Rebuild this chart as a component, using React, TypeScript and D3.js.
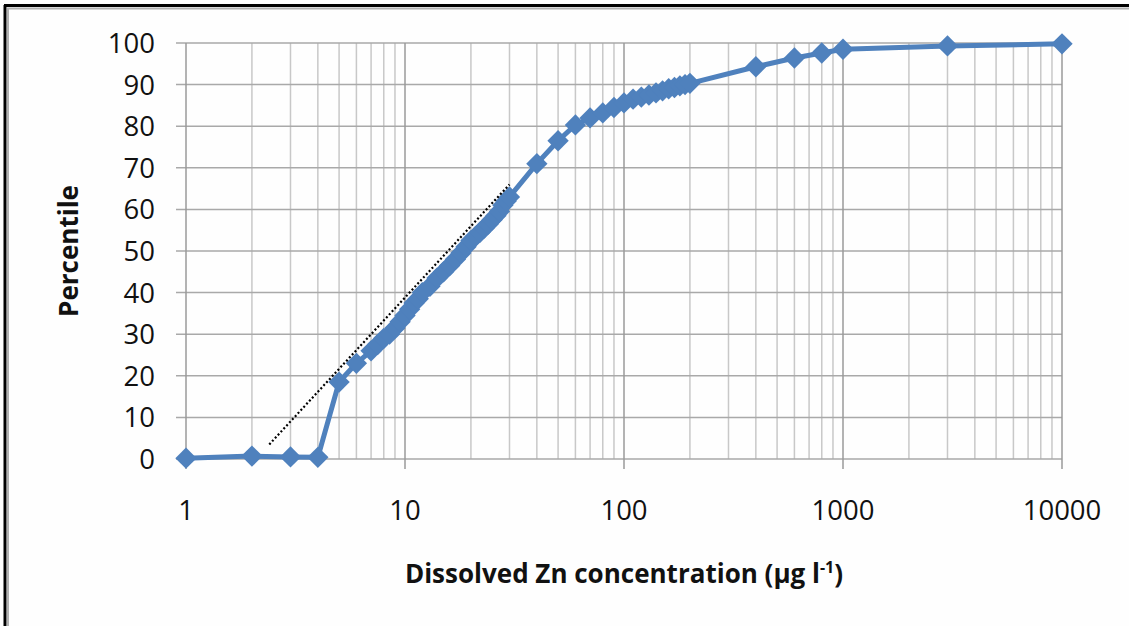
import React, { useEffect } from 'react';
import * as d3 from 'd3';

// Dissolved Zn concentration (µg/l) and cumulative percentile
const concentrations = [
  1, 2, 3, 4, 5, 6, 7, 7.5, 8, 8.5, 9, 9.5, 10, 10.5, 11, 11.5, 12, 13, 14, 15,
  16, 17, 18, 19, 20, 21, 22, 23, 24, 25, 26, 27, 28, 29, 30, 40, 50, 60, 70,
  80, 90, 100, 110, 120, 130, 140, 150, 160, 170, 180, 190, 200, 400, 600, 800,
  1000, 3000, 10000,
];
const percentiles = [
  0.2, 0.7, 0.5, 0.4, 18.5, 23, 26, 27.5, 29, 30, 31.5, 33, 34.5, 36, 37.5, 38.5,
  40, 41.5, 43.5, 45, 46.5, 48, 49.5, 51, 52.5, 53.5, 54.5, 55.5, 56.5, 57.5,
  58.5, 59.5, 61, 62, 63, 71, 76.5, 80.3, 82, 83.2, 84.5, 85.6, 86.5, 87, 87.5,
  88, 88.5, 89, 89.3, 89.7, 90, 90.3, 94.3, 96.4, 97.6, 98.5, 99.3, 99.8,
];

// dotted trend line end points
const trendX = [2.4, 30];
const trendY = [3.5, 66];

const xTicks = [1, 10, 100, 1000, 10000];
const yTicks = [0, 10, 20, 30, 40, 50, 60, 70, 80, 90, 100];

const W = 1129;
const H = 626;
const margin = { top: 43, right: 67, bottom: 167, left: 186 };
const font = "'Open Sans', 'Noto Sans', sans-serif";

const App: React.FC = () => {
  useEffect(() => {
    document.body.style.margin = '0';
  }, []);

  const x = d3.scaleLog().domain([1, 10000]).range([margin.left, W - margin.right]);
  const y = d3.scaleLinear().domain([0, 100]).range([H - margin.bottom, margin.top]);

  const minorX: number[] = [];
  for (let d = 1; d < 10000; d *= 10) {
    for (let k = 2; k <= 9; k++) minorX.push(d * k);
  }

  const points = concentrations.map((c, i) => [c, percentiles[i]] as [number, number]);
  const line = d3.line<[number, number]>()
    .x(d => x(d[0]))
    .y(d => y(d[1]));
  const trendPts = trendX.map((t, i) => [t, trendY[i]] as [number, number]);

  const diamond = d3.symbol().type(d3.symbolDiamond2).size(290)();

  const x0 = margin.left;
  const x1 = W - margin.right;
  const y0 = H - margin.bottom;
  const y1 = margin.top;

  return (
    <svg width={W} height={H} style={{ display: 'block', background: '#fefefe' }}>
      {/* frame */}
      <line x1={5} y1={5} x2={5} y2={H} stroke="#000" strokeWidth={3} />
      <line x1={4} y1={5.5} x2={W} y2={5.5} stroke="#000" strokeWidth={3} />
      <line x1={8} y1={8} x2={8} y2={H} stroke="#b0b0b0" strokeWidth={2} />
      <line x1={7} y1={8.5} x2={W} y2={8.5} stroke="#b0b0b0" strokeWidth={2} />

      {/* minor vertical grid */}
      {minorX.map(v => (
        <line key={'mx' + v} x1={x(v)} x2={x(v)} y1={y1} y2={y0} stroke="#c8c8c8" strokeWidth={1.5} />
      ))}
      {/* horizontal grid */}
      {yTicks.map(t => (
        <line key={'gy' + t} x1={x0 - 10} x2={x1} y1={y(t)} y2={y(t)} stroke="#a9a9a9" strokeWidth={1.5} />
      ))}
      {/* decade vertical grid */}
      {xTicks.map(t => (
        <line key={'gx' + t} x1={x(t)} x2={x(t)} y1={y1} y2={y0 + 10} stroke="#9a9a9a" strokeWidth={1.5} />
      ))}

      {/* y tick labels */}
      {yTicks.map(t => (
        <text key={'ty' + t} x={155} y={y(t)} dy="0.36em" textAnchor="end"
          fontFamily={font} fontSize={27.5} fill="#111">{t}</text>
      ))}
      {/* x tick labels */}
      {xTicks.map(t => (
        <text key={'tx' + t} x={x(t)} y={520} textAnchor="middle"
          fontFamily={font} fontSize={27.5} fill="#111">{t}</text>
      ))}

      {/* series */}
      <path d={line(points) || ''} fill="none" stroke="#4f81bd" strokeWidth={5} strokeLinejoin="round" />
      {points.map((p, i) => (
        <path key={'m' + i} d={diamond || ''} transform={`translate(${x(p[0])},${y(p[1])})`} fill="#4f81bd" />
      ))}

      {/* trend line */}
      <path d={line(trendPts) || ''} fill="none" stroke="#000" strokeWidth={2.2} strokeDasharray="2,2.2" />

      {/* axis titles */}
      <text x={624} y={583} textAnchor="middle" fontFamily={font} fontWeight="bold"
        fontSize={26} fill="#111">
        Dissolved Zn concentration (<tspan>μ</tspan>g l<tspan dy={-10} fontSize={16}>-1</tspan><tspan dy={10}>)</tspan>
      </text>
      <text transform={`translate(78,${(y0 + y1) / 2}) rotate(-90)`} textAnchor="middle"
        fontFamily={font} fontWeight="bold" fontSize={26} fill="#111">
        Percentile
      </text>
    </svg>
  );
};

export default App;
